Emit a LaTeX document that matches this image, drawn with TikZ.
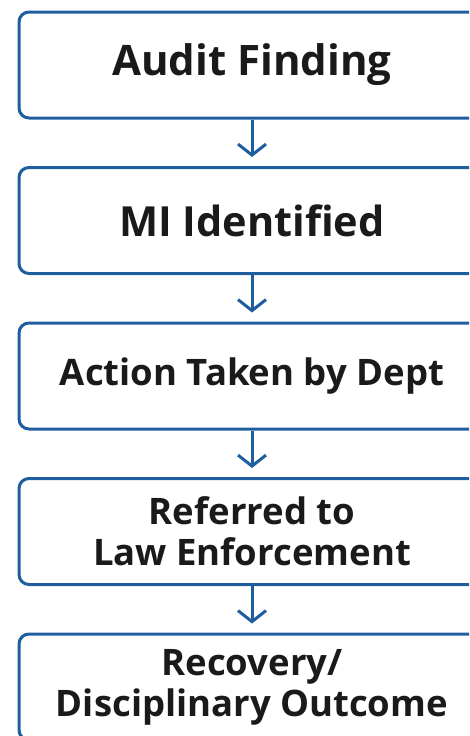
\documentclass[tikz,border=0pt]{standalone}
\usepackage{fontspec}
\setmainfont{Open Sans}
\usetikzlibrary{positioning,arrows.meta}

\definecolor{flowblue}{RGB}{31,94,158}
\definecolor{inkblack}{RGB}{26,26,26}

\tikzset{
  stepbox/.style={draw=flowblue, line width=3pt, rounded corners=10pt,
    minimum width=466pt, minimum height=106pt, align=center,
    text=inkblack, font=\bfseries},
  flowarrow/.style={draw=flowblue, line width=3pt, shorten >=9pt,
    -{Straight Barb[length=11pt,width=28pt,line width=3pt]}}
}

\begin{document}
\begin{tikzpicture}[node distance=46.5pt]
    \clip (0,0) rectangle (469pt,-736pt);
    \useasboundingbox (0,0) rectangle (469pt,-736pt);

    % steps
    \node[stepbox,font=\fontsize{42}{46}\selectfont\bfseries] (audit) at (252pt,-65pt) {Audit Finding};
    \node[stepbox,below=of audit,font=\fontsize{41.5}{46}\selectfont\bfseries] (mi) {MI Identified};
    \node[stepbox,below=of mi,font=\fontsize{36.5}{40}\selectfont\bfseries] (action) {Action Taken by Dept};
    \node[stepbox,below=of action,font=\fontsize{36.5}{41}\selectfont\bfseries] (law) {Referred to\\Law Enforcement};
    \node[stepbox,below=of law,font=\fontsize{36.5}{41}\selectfont\bfseries] (outcome) {Recovery/\\Disciplinary Outcome};

    % arrows
    \draw[flowarrow] (audit) -- (mi);
    \draw[flowarrow] (mi) -- (action);
    \draw[flowarrow] (action) -- (law);
    \draw[flowarrow] (law) -- (outcome);
\end{tikzpicture}
\end{document}
